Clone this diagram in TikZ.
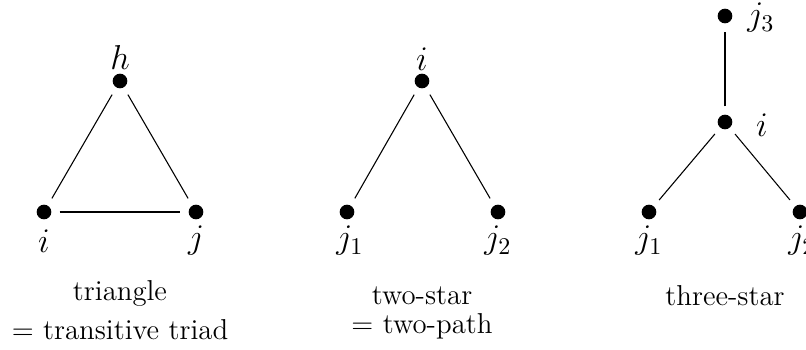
\documentclass[tikz,border=0pt]{standalone}
\begin{document}
\begin{tikzpicture}[x=0.4167pt,y=-0.4167pt,
  vtx/.style={circle,fill=black,inner sep=0pt,minimum size=6.1pt},
  edge/.style={line width=0.45pt,shorten >=3.3pt,shorten <=3.3pt},
  lbl/.style={inner sep=0pt,font=\Large},
  captxt/.style={inner sep=0pt,font=\large}]
\useasboundingbox (0,0) rectangle (806,349);
% triangle
\node[vtx] (th) at (120,81) {};
\node[vtx] (ti) at (44,212) {};
\node[vtx] (tj) at (196,212) {};
\draw[edge] (th) -- (ti);
\draw[edge] (th) -- (tj);
\draw[edge] (ti) -- (tj);
\node[lbl] (lth) at (120,57) {$h$};
\node[lbl] (lti) at (44,241) {$i$};
\node[lbl] (ltj) at (196,241) {$j$};
\node[captxt] (c1a) at (120,293) {triangle};
\node[captxt] (c1b) at (120,330) {$=$ transitive triad};
% two-star
\node[vtx] (si) at (422,81) {};
\node[vtx] (sj1) at (347,212) {};
\node[vtx] (sj2) at (498,212) {};
\draw[edge] (si) -- (sj1);
\draw[edge] (si) -- (sj2);
\node[lbl] (lsi) at (422,59) {$i$};
\node[lbl] (lsj1) at (350,241) {$j_1$};
\node[lbl] (lsj2) at (498,241) {$j_2$};
\node[captxt] (c2a) at (422,296) {two-star};
\node[captxt] (c2b) at (422,326) {$=$ two-path};
% three-star
\node[vtx] (ri) at (725,122) {};
\node[vtx] (rj3) at (725,16) {};
\node[vtx] (rj1) at (649,212) {};
\node[vtx] (rj2) at (800,212) {};
\draw[edge] (ri) -- (rj3);
\draw[edge] (ri) -- (rj1);
\draw[edge] (ri) -- (rj2);
\node[lbl] (lrj3) at (761,18) {$j_3$};
\node[lbl] (lri) at (762,125) {$i$};
\node[lbl] (lrj1) at (649,241) {$j_1$};
\node[lbl] (lrj2) at (802,241) {$j_2$};
\node[captxt] (c3a) at (725,296) {three-star};
\end{tikzpicture}
\end{document}
